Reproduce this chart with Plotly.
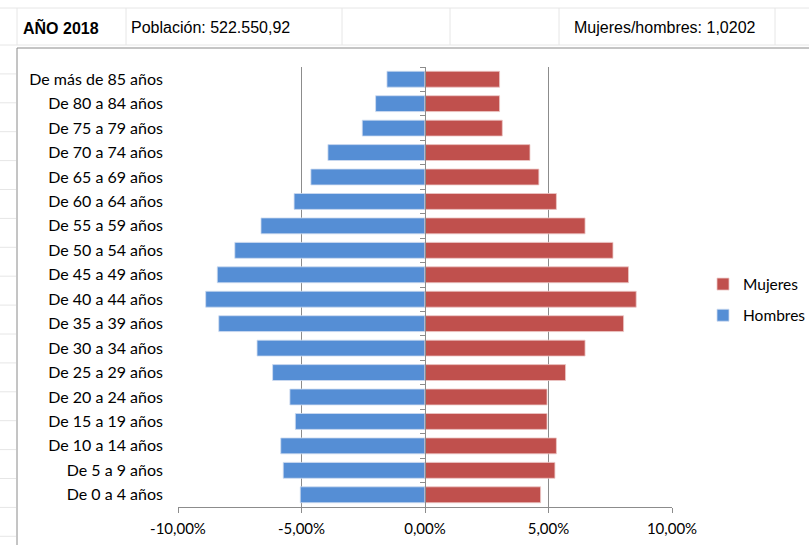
import plotly.graph_objects as go

# Datos de la pirámide (porcentaje sobre población total), de abajo hacia arriba
grupos = ["De 0 a 4 años", "De 5 a 9 años", "De 10 a 14 años", "De 15 a 19 años",
          "De 20 a 24 años", "De 25 a 29 años", "De 30 a 34 años", "De 35 a 39 años",
          "De 40 a 44 años", "De 45 a 49 años", "De 50 a 54 años", "De 55 a 59 años",
          "De 60 a 64 años", "De 65 a 69 años", "De 70 a 74 años", "De 75 a 79 años",
          "De 80 a 84 años", "De más de 85 años"]
hombres = [5.05, 5.74, 5.84, 5.25, 5.47, 6.17, 6.80, 8.35, 8.88, 8.41,
           7.70, 6.64, 5.30, 4.62, 3.93, 2.54, 2.00, 1.54]
mujeres = [4.68, 5.26, 5.32, 4.94, 4.94, 5.69, 6.48, 8.04, 8.55, 8.24,
           7.61, 6.48, 5.32, 4.61, 4.25, 3.13, 3.02, 3.02]
x_ticks = [-10, -5, 0, 5, 10]
x_ticktext = ["-10,00%", "-5,00%", "0,00%", "5,00%", "10,00%"]

W, H = 809, 545
L, R, T, B = 178, 672, 67, 507
FONT = "Lato, Open Sans, sans-serif"
GRID = "#8c8c8c"


def px_x(p):
    return (p - L) / (R - L)


def px_y(p):
    return (B - p) / (B - T)


fig = go.Figure()
fig.add_trace(go.Bar(y=grupos, x=[-v for v in hombres], orientation="h", name="Hombres",
                     marker=dict(color="#558ed5", line=dict(color="#cfdcf0", width=0.8)),
                     customdata=hombres, hovertemplate="%{y}: %{customdata:.2f}%<extra>Hombres</extra>",
                     legendgroup="h", legendrank=2))
fig.add_trace(go.Bar(y=grupos, x=mujeres, orientation="h", name="Mujeres",
                     marker=dict(color="#c0504d", line=dict(color="#ecc8c7", width=0.8)),
                     hovertemplate="%{y}: %{x:.2f}%<extra>Mujeres</extra>",
                     legendgroup="m", legendrank=1))
# eje central con marcas entre categorías
fig.add_trace(go.Scatter(y=grupos, x=[0] * len(grupos), yaxis="y2", mode="markers",
                         marker=dict(opacity=0), showlegend=False, hoverinfo="skip"))

# cuadrícula de la hoja de cálculo y marco del gráfico
shapes = []
light = "#e6e6e6"
for yy in [8, 45]:
    shapes.append(dict(type="line", xref="paper", yref="paper", x0=px_x(0), x1=px_x(W),
                       y0=px_y(yy), y1=px_y(yy), line=dict(color=light, width=1)))
for xx in [17, 126, 342, 450, 559, 775]:
    shapes.append(dict(type="line", xref="paper", yref="paper", x0=px_x(xx), x1=px_x(xx),
                       y0=px_y(8), y1=px_y(45), line=dict(color=light, width=1)))
k = 1
while 45 + 28.9 * k < H:
    yy = 45 + 28.9 * k
    shapes.append(dict(type="line", xref="paper", yref="paper", x0=px_x(0), x1=px_x(16),
                       y0=px_y(yy), y1=px_y(yy), line=dict(color=light, width=1)))
    k += 1
shapes.append(dict(type="line", xref="paper", yref="paper", x0=px_x(17), x1=px_x(W),
                   y0=px_y(48), y1=px_y(48), line=dict(color="#8a8a8a", width=1)))
shapes.append(dict(type="line", xref="paper", yref="paper", x0=px_x(17), x1=px_x(17),
                   y0=px_y(48), y1=px_y(H), line=dict(color="#8a8a8a", width=1)))

hdr = "Liberation Sans, Arial, sans-serif"
annotations = [
    dict(text="<b>AÑO 2018</b>", x=px_x(21), y=px_y(27)),
    dict(text="Población: 522.550,92", x=px_x(129), y=px_y(27)),
    dict(text="Mujeres/hombres: 1,0202", x=px_x(572), y=px_y(27)),
]
for a in annotations:
    a.update(xref="paper", yref="paper", xanchor="left", yanchor="middle", showarrow=False,
             font=dict(family=hdr, size=16, color="#000000"))

fig.update_layout(
    width=W, height=H,
    margin=dict(l=L, r=W - R, t=T, b=H - B, pad=0, autoexpand=False),
    paper_bgcolor="white", plot_bgcolor="white",
    barmode="relative", bargap=0.35,
    font=dict(family=FONT, size=16, color="#000000"),
    xaxis=dict(range=[-10, 10], tickvals=x_ticks, ticktext=x_ticktext,
               showgrid=True, gridcolor=GRID, gridwidth=1, zeroline=False,
               showline=True, linecolor=GRID, ticks="outside", ticklen=5, tickcolor=GRID,
               ticklabelstandoff=3, tickfont=dict(size=15), fixedrange=True),
    yaxis=dict(type="category", categoryarray=grupos, range=[-0.5, len(grupos) - 0.5],
               showgrid=False, zeroline=False, showline=False, ticks="",
               ticklabelstandoff=14, fixedrange=True),
    yaxis2=dict(type="category", categoryarray=grupos, range=[-0.5, len(grupos) - 0.5],
                overlaying="y", anchor="free", position=0.5, side="left",
                showline=True, linecolor=GRID, ticks="outside", tickson="boundaries",
                ticklen=5, tickcolor=GRID, showticklabels=False, showgrid=False,
                zeroline=False, fixedrange=True),
    legend=dict(x=px_x(703), y=px_y(300), xanchor="left", yanchor="middle",
                tracegroupgap=8, font=dict(family=FONT, size=15.5),
                bgcolor="rgba(0,0,0,0)"),
    shapes=shapes,
    annotations=annotations,
)

fig.write_html("out.html", config={"displayModeBar": False},
               post_script="document.body.style.margin='0';")
